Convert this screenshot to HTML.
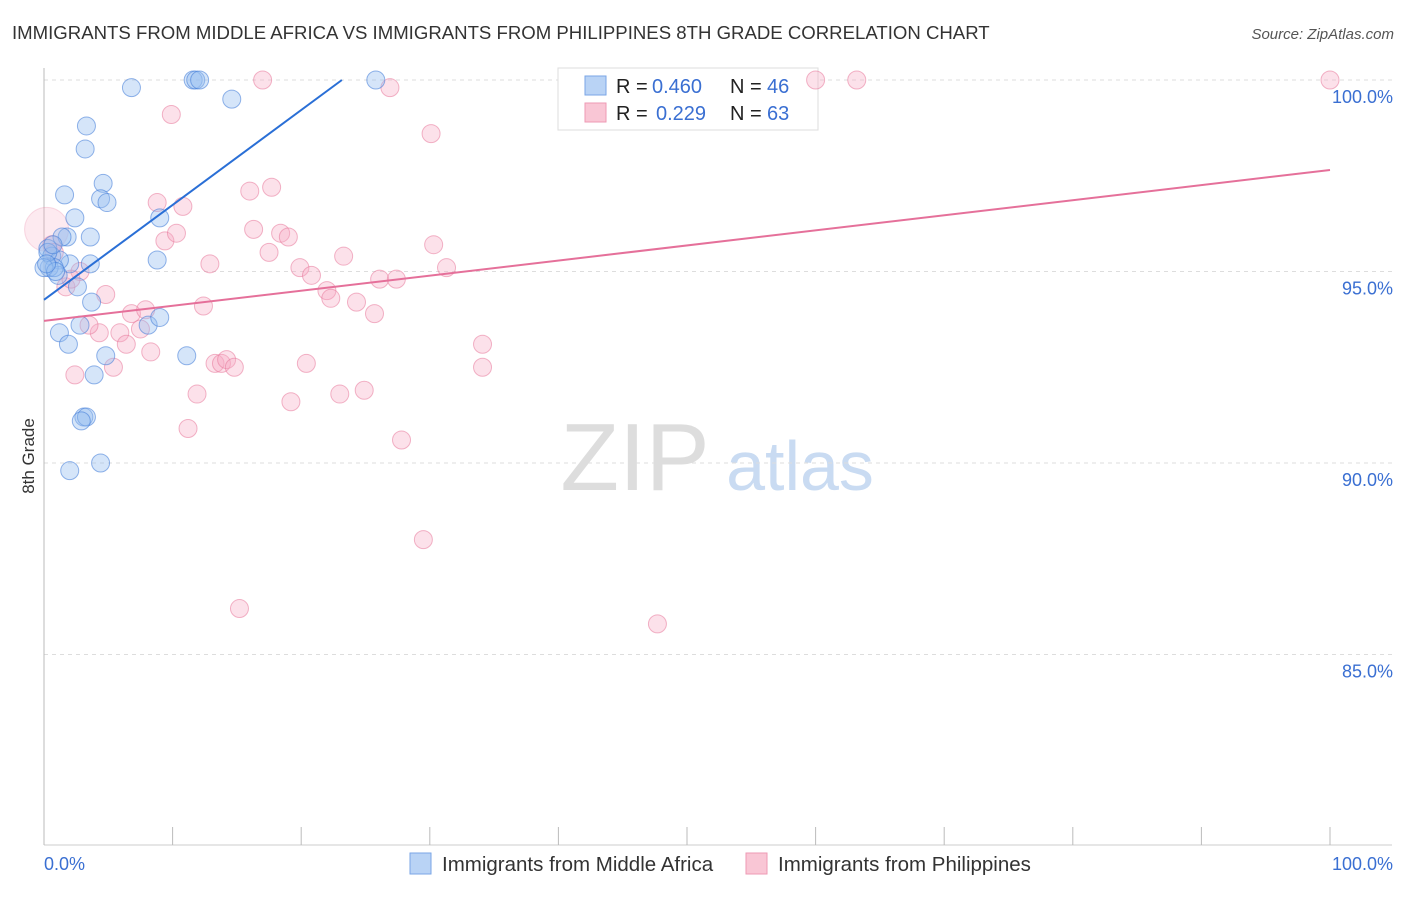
<!DOCTYPE html>
<html><head><meta charset="utf-8"><style>
body{margin:0;background:#fff;font-family:"Liberation Sans",sans-serif;}
svg text{font-family:"Liberation Sans",sans-serif;}
</style></head><body>
<svg id="chart" width="1406" height="892" xmlns="http://www.w3.org/2000/svg">
<text x="12" y="39" font-size="18.6" fill="#333">IMMIGRANTS FROM MIDDLE AFRICA VS IMMIGRANTS FROM PHILIPPINES 8TH GRADE CORRELATION CHART</text>
<text x="1394" y="39" font-size="15" fill="#555" text-anchor="end" font-style="italic">Source: ZipAtlas.com</text>
<g><text x="635" y="490" font-size="96" fill="#ddd" text-anchor="middle" font-family="Liberation Serif">ZIP</text><text x="800" y="490" font-size="70" fill="#c9dbf2" text-anchor="middle">atlas</text></g>
<g id="grid"></g><g id="axes"></g>
<g>
<rect x="558" y="68" width="260" height="62" fill="#fff" stroke="#ddd"/>
<rect x="585" y="76" width="21" height="19" fill="#b9d3f5" stroke="#7aa6e6"/>
<rect x="585" y="103" width="21" height="19" fill="#f9c6d5" stroke="#ee9ab4"/>
<text x="616" y="93" font-size="20" fill="#222">R =</text>
<text x="652" y="93" font-size="20" fill="#3a6fd2">0.460</text>
<text x="730" y="93" font-size="20" fill="#222">N =</text>
<text x="767" y="93" font-size="20" fill="#3a6fd2">46</text>
<text x="616" y="120" font-size="20" fill="#222">R =</text>
<text x="656" y="120" font-size="20" fill="#3a6fd2">0.229</text>
<text x="730" y="120" font-size="20" fill="#222">N =</text>
<text x="767" y="120" font-size="20" fill="#3a6fd2">63</text>
</g>
<g id="pts"></g><g id="lines"></g>
<text transform="translate(34,456) rotate(-90)" font-size="17" fill="#333" text-anchor="middle">8th Grade</text>
<g>
<rect x="410" y="853" width="21" height="21" fill="#b9d3f5" stroke="#7aa6e6"/>
<text x="442" y="871" font-size="20.5" fill="#333">Immigrants from Middle Africa</text>
<rect x="746" y="853" width="21" height="21" fill="#f9c6d5" stroke="#ee9ab4"/>
<text x="778" y="871" font-size="20.5" fill="#333">Immigrants from Philippines</text>
</g>
</svg>
<script>
const yTicks=[100,95,90,85];
const xTickLabels=["0.0%","100.0%"];
const blueX=[6.8,11.6,11.8,12.1,14.6,25.8,3.3,3.2,1.6,4.6,4.4,4.9,2.4,3.6,1.8,1.4,0.3,0.6,2.0,1.2,3.6,1.1,0.4,2.6,3.7,8.8,9.0,8.1,9.0,2.8,1.2,1.9,4.8,3.9,11.1,3.1,3.3,2.9,2.0,4.4,0.8,0.3,0.7,0.0,0.9,0.2];
const blueY=[99.8,100,100,100,99.5,100,98.8,98.2,97.0,97.3,96.9,96.8,96.4,95.9,95.9,95.9,95.6,95.4,95.2,95.3,95.2,94.9,95.1,94.6,94.2,95.3,96.4,93.6,93.8,93.6,93.4,93.1,92.8,92.3,92.8,91.2,91.2,91.1,89.8,90.0,95.1,95.5,95.7,95.1,95.0,95.2];
const pinkX=[17.0,26.9,9.9,30.1,16.0,17.7,8.8,10.8,9.4,10.3,16.3,18.4,19.0,17.5,12.9,19.9,20.8,23.3,22.0,22.3,24.3,25.7,26.1,27.4,30.3,31.3,12.4,6.8,7.9,7.5,5.9,6.4,4.3,3.5,8.3,5.4,2.4,11.9,11.2,13.3,13.8,14.2,14.8,20.4,19.2,23.0,24.9,27.8,29.5,15.2,47.7,34.1,34.1,60.0,63.2,100,4.8,2.8,1.7,0.6,0.2,2.1,0.8];
const pinkY=[100,99.8,99.1,98.6,97.1,97.2,96.8,96.7,95.8,96.0,96.1,96.0,95.9,95.5,95.2,95.1,94.9,95.4,94.5,94.3,94.2,93.9,94.8,94.8,95.7,95.1,94.1,93.9,94.0,93.5,93.4,93.1,93.4,93.6,92.9,92.5,92.3,91.8,90.9,92.6,92.6,92.7,92.5,92.6,91.6,91.8,91.9,90.6,88.0,86.2,85.8,93.1,92.5,100,100,100,94.4,95.0,94.6,95.7,96.1,94.8,95.5];
const blueLine=[94.26,0.2478];
const pinkLine=[93.71,0.0394];
const NS="http://www.w3.org/2000/svg";
const X=v=>44+v*12.86, Y=v=>80+(100-v)*38.3;
function mk(t,a,p){const e=document.createElementNS(NS,t);for(const k in a)e.setAttribute(k,a[k]);p.appendChild(e);return e;}
const grid=document.getElementById('grid'),axes=document.getElementById('axes'),pts=document.getElementById('pts'),lines=document.getElementById('lines');
yTicks.forEach(t=>{
 const l=mk('line',{x1:44,x2:1392,y1:Y(t),y2:Y(t),stroke:'#ddd','stroke-dasharray':'4,4'},grid);
 
 
 const tx=mk('text',{x:1393,y:Y(t)+23,'font-size':18,fill:'#3a6fd2','text-anchor':'end'},grid);
 tx.textContent=t.toFixed(1)+'%';
 
 
});
const ax=mk('line',{x1:44,x2:44,y1:68,y2:845,stroke:'#bbb'},axes);


const bx=mk('line',{x1:44,x2:1392,y1:845,y2:845,stroke:'#ccc'},axes);


for(let i=0;i<=10;i++){const t=mk('line',{x1:X(i*10),x2:X(i*10),y1:827,y2:845,stroke:'#bbb'},axes);
 
 }
[[0,'start',44],[1,'end',1393]].forEach(([i,a,x])=>{const t=mk('text',{x:x,y:870,'font-size':18,fill:'#3a6fd2','text-anchor':a},axes);t.textContent=xTickLabels[i];
 
 });
pinkX.forEach((x,i)=>{const big=(i==60);const c=mk('circle',{cx:X(x),cy:Y(pinkY[i]),r:(big?22:9),fill:big?'rgba(246,170,195,0.25)':'rgba(246,170,195,0.35)',stroke:big?'rgba(232,120,155,0.25)':'rgba(232,120,155,0.55)','stroke-width':1},pts);
 
 });
blueX.forEach((x,i)=>{const c=mk('circle',{cx:X(x),cy:Y(blueY[i]),r:9,fill:'rgba(150,190,240,0.4)',stroke:'rgba(60,120,215,0.55)','stroke-width':1},pts);
 
 });
const bEnd=(100-blueLine[0])/blueLine[1];
const bl=mk('line',{x1:X(0),y1:Y(blueLine[0]),x2:X(bEnd),y2:Y(100),stroke:'#2a6fd6','stroke-width':2},lines);


const pl=mk('line',{x1:X(0),y1:Y(pinkLine[0]),x2:X(100),y2:Y(pinkLine[0]+100*pinkLine[1]),stroke:'#e5709a','stroke-width':2},lines);


</script>
</body></html>
